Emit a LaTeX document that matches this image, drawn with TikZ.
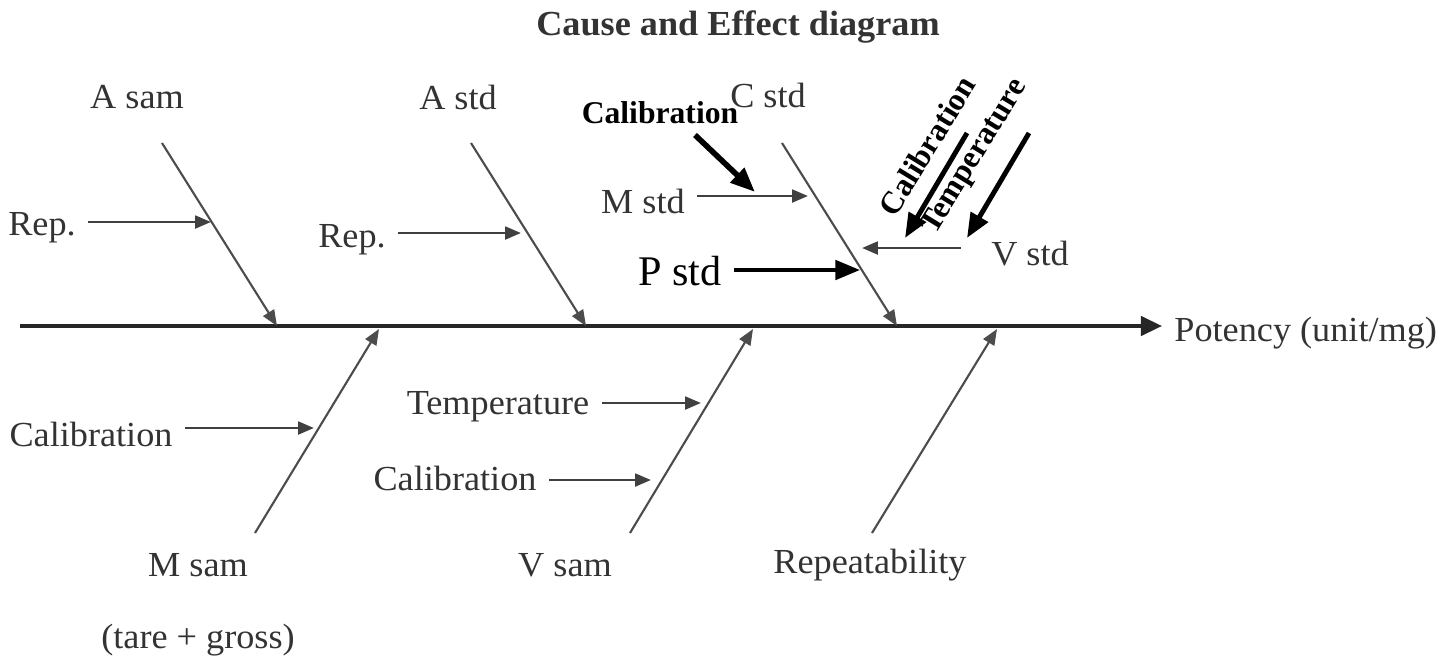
\documentclass[tikz,border=0pt]{standalone}
\usepackage{fontspec}
\setmainfont{Liberation Serif}
\newfontfamily\scanfont[FakeStretch=1.03]{Liberation Serif}
\usetikzlibrary{arrows.meta,positioning,calc}

\begin{document}
\begin{tikzpicture}[x=0.01cm,y=-0.01cm,
  every node/.style={font=\scanfont\fontsize{10}{12}\selectfont, text=black!80},
  spine/.style={black!85, line width=1pt, -{Triangle[length=6pt,width=5.5pt]}},
  bone/.style={black!70, line width=0.6pt, -{Triangle[length=4.5pt,width=3.6pt]}},
  twig/.style={black!75, line width=0.8pt, -{Triangle[length=4.5pt,width=3.6pt]}},
  added/.style={black, line width=1.3pt, -{Triangle[length=7pt,width=5.5pt]}},
  addedtext/.style={text=black, font=\bfseries\fontsize{9}{11}\selectfont}]
\useasboundingbox (0,0) rectangle (1447,663);

\node[font=\scanfont\bfseries\fontsize{10}{12}\selectfont] (title) at (738,27) {Cause and Effect diagram};

% spine
\coordinate (tail) at (20,326);
\node[anchor=west] (potency) at (1162,333) {Potency (unit/mg)};
\draw[spine] (tail) -- (tail -| potency.west);

% upper bones
\node (asam) at (137,97) {A sam};
\coordinate (asamtop) at (162,143);
\coordinate (asamend) at (277,326);
\draw[bone] (asamtop) -- (asamend);
\node (repa) at (42,228) {Rep.};
\coordinate (repatip) at (211,222);
\draw[twig] (repa.east |- repatip) -- (repatip);

\node (astd) at (458,97) {A std};
\coordinate (astdtop) at (471,143);
\coordinate (astdend) at (586,326);
\draw[bone] (astdtop) -- (astdend);
\node (repb) at (352,240) {Rep.};
\coordinate (repbtip) at (521,233);
\draw[twig] (repb.east |- repbtip) -- (repbtip);

\node (cstd) at (768,95) {C std};
\coordinate (cstdtop) at (782,143);
\coordinate (cstdend) at (897,326);
\draw[bone] (cstdtop) -- (cstdend);
\node (mstd) at (643,201) {M std};
\coordinate (mstdtip) at (808,196);
\draw[twig] (mstd.east |- mstdtip) -- (mstdtip);
\node (vstd) at (1030,254) {V std};
\coordinate (vstdtip) at (862,248);
\draw[twig] ($(vstd.west |- vstdtip)+(-18,0)$) -- (vstdtip);

% added by hand
\node[text=black, font=\fontsize{12}{14}\selectfont] (pstd) at (680,271) {P std};
\coordinate (pstdtip) at (860,270);
\draw[added, line width=1.1pt] (pstd.east |- pstdtip) -- (pstdtip);
\node[addedtext] (calb) at (660,113) {Calibration};
\coordinate (calbtail) at (695,135);
\coordinate (calbtip) at (755,192);
\draw[added, line width=1.6pt] (calbtail) -- (calbtip);
\node[addedtext, rotate=58.5] (calr) at (927,146) {Calibration};
\node[addedtext, rotate=58.5] (tempr) at (975,157) {Temperature};
\coordinate (calrtail) at (967,133);
\coordinate (calrtip) at (905,238);
\coordinate (temprtail) at (1029,133);
\coordinate (temprtip) at (967,238);
\draw[added, line width=1.4pt] (calrtail) -- (calrtip);
\draw[added, line width=1.4pt] (temprtail) -- (temprtip);

% lower bones
\coordinate (msambot) at (255,533);
\coordinate (msamend) at (379,329);
\draw[bone] (msambot) -- (msamend);
\node (msam) at (198,565) {M sam};
\node (tare) at (198,640) {(tare + gross)};
\node (calm) at (91,434) {Calibration};
\coordinate (calmtip) at (314,428);
\draw[twig] (calm.east |- calmtip) -- (calmtip);

\coordinate (vsambot) at (630,533);
\coordinate (vsamend) at (753,329);
\draw[bone] (vsambot) -- (vsamend);
\node (vsam) at (565,565) {V sam};
\node (tempv) at (498,407) {Temperature};
\coordinate (tempvtip) at (701,403);
\draw[twig] (tempv.east |- tempvtip) -- (tempvtip);
\node (calv) at (455,478) {Calibration};
\coordinate (calvtip) at (651,480);
\draw[twig] (calv.east |- calvtip) -- (calvtip);

\coordinate (repbot) at (872,533);
\coordinate (repend) at (997,329);
\draw[bone] (repbot) -- (repend);
\node (repeat) at (870,565) {Repeatability};
\end{tikzpicture}
\end{document}
